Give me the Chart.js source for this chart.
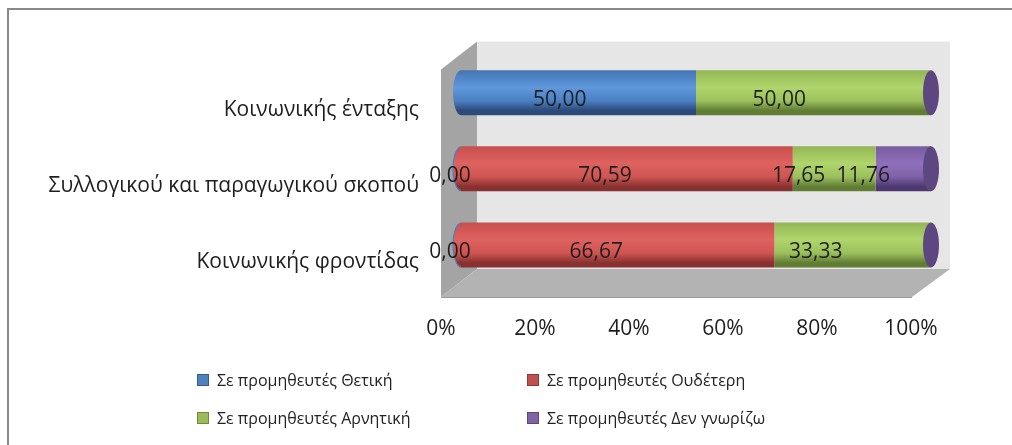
<!DOCTYPE html>
<html><head><meta charset="utf-8">
<script src="https://cdn.jsdelivr.net/npm/chart.js@4.4.1/dist/chart.umd.min.js"></script>
<style>
html,body{margin:0;padding:0;background:#fff;}
#wrap{position:relative;width:1012px;height:445px;overflow:hidden;background:#fff;}
#frame{position:absolute;left:7px;top:8px;width:1100px;height:500px;border-left:2px solid #8a8a8a;border-top:2px solid #8a8a8a;}
canvas{position:absolute;left:0;top:0;}
#legend{position:absolute;left:0;top:0;width:1012px;height:445px;font-family:'Open Sans';font-size:16px;color:#222;}
.item{position:absolute;display:flex;align-items:center;white-space:nowrap;height:20px;}
.sw{width:10px;height:10px;margin-right:8px;border:1px solid;}
</style></head><body>
<div id="wrap"><div id="frame"></div><canvas id="c" width="1012" height="445"></canvas><div id="legend"></div></div>
<script>
// ---- data ----
const categories = ['Κοινωνικής ένταξης', 'Συλλογικού και παραγωγικού σκοπού', 'Κοινωνικής φροντίδας'];
const seriesNames = ['Σε προμηθευτές Θετική', 'Σε προμηθευτές Ουδέτερη', 'Σε προμηθευτές Αρνητική', 'Σε προμηθευτές Δεν γνωρίζω'];
const positive = [50, 0, 0];
const neutral  = [null, 70.59, 66.67];
const negative = [50, 17.65, 33.33];
const dontKnow = [null, 11.76, null];
const xTickLabels = ['0%', '20%', '40%', '60%', '80%', '100%'];

// ---- styles ----
const palettes = [
  {top:'#4673AD', light:'#5F98DC', mid:'#4B80C2', dark:'#2C4A7A', swatch:'#4F81BD', edge:'#385D8A', cap:'#3B5F92'},
  {top:'#C4504D', light:'#DE625F', mid:'#CF5552', dark:'#883130', swatch:'#C0504D', edge:'#8C3836', cap:'#9A3A38'},
  {top:'#93B556', light:'#B0D56C', mid:'#9CC05C', dark:'#617D34', swatch:'#9BBB59', edge:'#71893F', cap:'#6F8E3C'},
  {top:'#7A5EA0', light:'#9070BB', mid:'#7E61A7', dark:'#4D3870', swatch:'#8064A2', edge:'#5C4776', cap:'#5E4680'}
];
const seriesData = [positive, neutral, negative, dontKnow];
const BAR_FRACTION = 0.59;
const FONT = "'Open Sans'";

function cylGradient(ctx, pal){
  const chart = ctx.chart;
  const ys = chart.scales && chart.scales.y;
  if (!chart.chartArea || !ys || ys.top === undefined) return pal.mid;
  const idx = ctx.dataIndex === undefined ? 0 : ctx.dataIndex;
  const cy = ys.getPixelForValue(idx);
  const half = (ys.height / categories.length) * BAR_FRACTION / 2;
  const g = chart.ctx.createLinearGradient(0, cy - half, 0, cy + half);
  g.addColorStop(0, pal.top);
  g.addColorStop(0.12, pal.mid);
  g.addColorStop(0.38, pal.light);
  g.addColorStop(0.68, pal.mid);
  g.addColorStop(0.9, pal.dark);
  g.addColorStop(1, pal.dark);
  return g;
}

const datasets = seriesNames.map((name, k) => ({
  label: name,
  data: seriesData[k],
  backgroundColor: (c) => cylGradient(c, palettes[k]),
  borderWidth: 0,
  barPercentage: 0.59,
  categoryPercentage: 1.0,
  clip: false
}));

// 3D walls (decoration tied to chart area)
const walls = {
  id: 'walls',
  beforeDatasetsDraw(chart){
    const {ctx, chartArea:a} = chart;
    const fx = a.left - 20, bx = a.left + 16;
    const backTop = a.top - 13, floorBack = a.bottom - 14, floorFront = floorBack + 28;
    const backRight = a.right + 19, frontRight = backRight - 38;
    ctx.save();
    ctx.fillStyle = '#E6E6E6';
    ctx.fillRect(bx, backTop, backRight - bx, floorBack - backTop);
    ctx.fillStyle = '#A4A4A4';
    ctx.beginPath();
    ctx.moveTo(fx, backTop + 28); ctx.lineTo(bx, backTop); ctx.lineTo(bx, floorBack); ctx.lineTo(fx, floorFront); ctx.closePath();
    ctx.fill();
    ctx.fillStyle = '#B3B3B3';
    ctx.beginPath();
    ctx.moveTo(fx, floorFront); ctx.lineTo(frontRight, floorFront); ctx.lineTo(backRight, floorBack); ctx.lineTo(bx, floorBack); ctx.closePath();
    ctx.fill();
    ctx.strokeStyle = '#9C9C9C'; ctx.lineWidth = 1;
    ctx.beginPath(); ctx.moveTo(fx, floorFront + 0.5); ctx.lineTo(frontRight, floorFront + 0.5); ctx.stroke();
    ctx.restore();
  }
};

// cylinder end caps and data labels
const caps = {
  id: 'caps',
  afterDatasetsDraw(chart){
    const {ctx, chartArea:a} = chart;
    const xs = chart.scales.x, ys = chart.scales.y;
    const rx = 8;
    ctx.save();
    categories.forEach((cat, i) => {
      const cy = ys.getPixelForValue(i);
      const half = (ys.height / categories.length) * BAR_FRACTION / 2;
      const first = seriesData.findIndex(s => s[i] !== null && s[i] > 0);
      const base = xs.getPixelForValue(0);
      ctx.fillStyle = cylGradient({chart, dataIndex: i}, palettes[first]);
      ctx.beginPath(); ctx.ellipse(base, cy, rx, half, 0, Math.PI/2, Math.PI*3/2); ctx.closePath(); ctx.fill();
      if (seriesData[0][i] === 0) {
        ctx.strokeStyle = palettes[0].mid; ctx.lineWidth = 1.2;
        ctx.beginPath(); ctx.ellipse(base, cy, rx, half - 1, 0, Math.PI/2, Math.PI*3/2); ctx.stroke();
      }
      const total = seriesData.reduce((s, arr) => s + (arr[i] || 0), 0);
      const end = xs.getPixelForValue(total);
      ctx.fillStyle = palettes[palettes.length - 1].cap;
      ctx.beginPath(); ctx.ellipse(end, cy, rx, half, 0, 0, Math.PI*2); ctx.fill();
    });
    // data labels (projected onto the front plane, as in the original 3D chart)
    ctx.font = '21px ' + FONT;
    ctx.fillStyle = '#1e1e1e';
    ctx.textAlign = 'center'; ctx.textBaseline = 'middle';
    categories.forEach((cat, i) => {
      const cy = ys.getPixelForValue(i);
      let start = 0;
      seriesData.forEach((arr) => {
        const v = arr[i];
        if (v === null || v === undefined) return;
        const px = xs.getPixelForValue(start + v / 2);
        const lx = a.left - 11 + (px - a.left) * 0.934;
        ctx.fillText(v.toFixed(2).replace('.', ','), lx, cy + 7);
        start += v;
      });
    });
    ctx.restore();
  }
};

new Chart(document.getElementById('c'), {
  type: 'bar',
  data: { labels: categories, datasets },
  options: {
    indexAxis: 'y',
    responsive: false,
    animation: false,
    events: [],
    layout: { padding: { top: 54, right: 81, bottom: 102, left: 0 } },
    plugins: { legend: { display: false }, tooltip: { enabled: false } },
    scales: {
      x: {
        stacked: true, min: 0, max: 100,
        ticks: { stepSize: 20, padding: 33, labelOffset: -20, color: '#1e1e1e',
                 font: { family: FONT, size: 21 },
                 callback: (v) => xTickLabels[Math.round(v / 20)] },
        grid: { display: false, drawTicks: false },
        border: { display: false },
        afterFit: (s) => { s.height = 60; }
      },
      y: {
        stacked: true,
        ticks: { padding: 42, labelOffset: 17, color: '#1e1e1e', font: { family: FONT, size: 21 } },
        grid: { display: false, drawTicks: false },
        border: { display: false },
        afterFit: (s) => { s.width = 461; }
      }
    }
  },
  plugins: [walls, caps]
});

// legend (2 x 2 grid as in the original)
const legendPos = [[197, 380], [527, 380], [197, 418], [527, 418]];
const lg = document.getElementById('legend');
seriesNames.forEach((name, k) => {
  const it = document.createElement('div');
  it.className = 'item';
  it.style.left = legendPos[k][0] + 'px';
  it.style.top = (legendPos[k][1] - 10) + 'px';
  const sw = document.createElement('span');
  sw.className = 'sw';
  sw.style.background = palettes[k].swatch;
  sw.style.borderColor = palettes[k].edge;
  const tx = document.createElement('span');
  tx.textContent = name;
  it.appendChild(sw); it.appendChild(tx);
  lg.appendChild(it);
});
</script>
</body></html>
